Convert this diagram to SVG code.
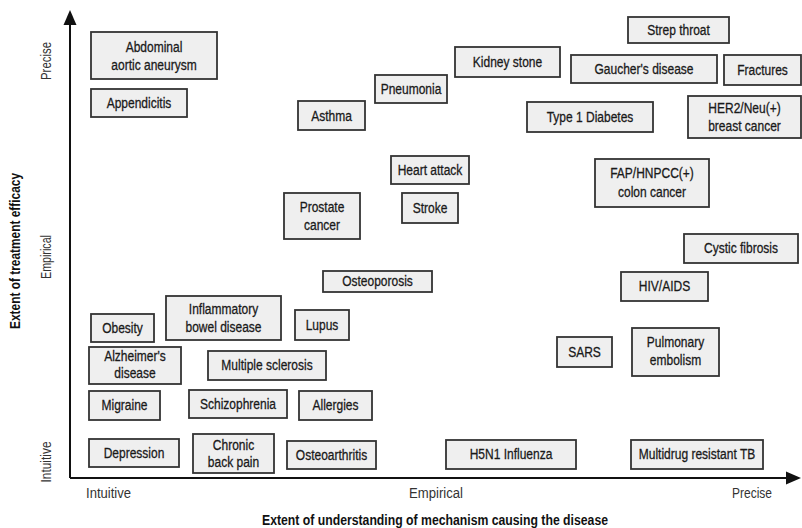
<svg xmlns="http://www.w3.org/2000/svg" width="802" height="528" viewBox="0 0 802 528">
<defs>
<style>
.b{fill:#efefef;stroke:#333;stroke-width:1.8}
.t{font-family:"Liberation Sans",Arial,sans-serif;font-size:15px;fill:#1a1a1a;stroke:#1a1a1a;stroke-width:0.3;text-anchor:middle}
.a{font-family:"Liberation Sans",Arial,sans-serif;font-size:14px;fill:#333;text-anchor:middle}
.ti{font-family:"Liberation Sans",Arial,sans-serif;font-size:14px;font-weight:bold;fill:#111;text-anchor:middle}
.ax{stroke:#111;stroke-width:2;fill:none}
</style>
</defs>
<rect width="802" height="528" fill="#fff"/>
<g id="connectors">
<path class="ax" d="M70,478 L70,14"/>
<path d="M70,10 L63.5,25 L76.5,25 z" fill="#111"/>
<path class="ax" d="M70,478 L790,478"/>
<path d="M801,478 L786,471.5 L786,484.5 z" fill="#111"/>
</g>
<g id="axis-labels">
<text class="a" transform="translate(51,61) rotate(-90)" textLength="38" lengthAdjust="spacingAndGlyphs">Precise</text>
<text class="a" transform="translate(51,257) rotate(-90)" textLength="44" lengthAdjust="spacingAndGlyphs">Empirical</text>
<text class="a" transform="translate(51,462) rotate(-90)" textLength="41" lengthAdjust="spacingAndGlyphs">Intuitive</text>
<text class="ti" transform="translate(20,251) rotate(-90)" textLength="156" lengthAdjust="spacingAndGlyphs">Extent of treatment efficacy</text>
<text class="a" x="108.5" y="498" textLength="45" lengthAdjust="spacingAndGlyphs">Intuitive</text>
<text class="a" x="436" y="498" textLength="54" lengthAdjust="spacingAndGlyphs">Empirical</text>
<text class="a" x="752" y="498" textLength="40" lengthAdjust="spacingAndGlyphs">Precise</text>
<text class="ti" x="435" y="525" textLength="346" lengthAdjust="spacingAndGlyphs">Extent of understanding of mechanism causing the disease</text>
</g>
<g id="abdominal"><rect class="b" x="91" y="32" width="126" height="47"/><text class="t" transform="translate(154,52) scale(.8,1)">Abdominal</text><text class="t" transform="translate(154,70) scale(.8,1)">aortic aneurysm</text></g>
<g id="appendicitis"><rect class="b" x="91" y="89" width="96" height="28"/><text class="t" transform="translate(139,108) scale(.8,1)">Appendicitis</text></g>
<g id="asthma"><rect class="b" x="298" y="101" width="67" height="29"/><text class="t" transform="translate(331.5,121) scale(.8,1)">Asthma</text></g>
<g id="pneumonia"><rect class="b" x="375" y="75" width="72" height="28"/><text class="t" transform="translate(411,94) scale(.8,1)">Pneumonia</text></g>
<g id="kidney"><rect class="b" x="455" y="47" width="105" height="30"/><text class="t" transform="translate(507.5,67) scale(.8,1)">Kidney stone</text></g>
<g id="strep"><rect class="b" x="628" y="17" width="101" height="26"/><text class="t" transform="translate(678.5,35) scale(.8,1)">Strep throat</text></g>
<g id="gaucher"><rect class="b" x="571" y="55" width="146" height="28"/><text class="t" transform="translate(644,74) scale(.8,1)">Gaucher's disease</text></g>
<g id="fractures"><rect class="b" x="724" y="55" width="77" height="30"/><text class="t" transform="translate(762.5,75) scale(.8,1)">Fractures</text></g>
<g id="diabetes"><rect class="b" x="527" y="102" width="126" height="30"/><text class="t" transform="translate(590,122) scale(.8,1)">Type 1 Diabetes</text></g>
<g id="her2"><rect class="b" x="688" y="96" width="113" height="42"/><text class="t" transform="translate(744.5,113) scale(.8,1)">HER2/Neu(+)</text><text class="t" transform="translate(744.5,131) scale(.8,1)">breast cancer</text></g>
<g id="heart"><rect class="b" x="391" y="156" width="78" height="28"/><text class="t" transform="translate(430,175) scale(.8,1)">Heart attack</text></g>
<g id="stroke"><rect class="b" x="402" y="193" width="56" height="30"/><text class="t" transform="translate(430,213) scale(.8,1)">Stroke</text></g>
<g id="prostate"><rect class="b" x="284" y="193" width="76" height="46"/><text class="t" transform="translate(322,212) scale(.8,1)">Prostate</text><text class="t" transform="translate(322,230) scale(.8,1)">cancer</text></g>
<g id="fap"><rect class="b" x="595" y="159" width="114" height="48"/><text class="t" transform="translate(652,178) scale(.8,1)">FAP/HNPCC(+)</text><text class="t" transform="translate(652,197) scale(.8,1)">colon cancer</text></g>
<g id="cystic"><rect class="b" x="684" y="234" width="114" height="29"/><text class="t" transform="translate(741,253) scale(.8,1)">Cystic fibrosis</text></g>
<g id="osteoporosis"><rect class="b" x="323" y="271" width="109" height="21"/><text class="t" transform="translate(377.5,286) scale(.8,1)">Osteoporosis</text></g>
<g id="hiv"><rect class="b" x="621" y="272" width="87" height="29"/><text class="t" transform="translate(664.5,291) scale(.8,1)">HIV/AIDS</text></g>
<g id="obesity"><rect class="b" x="91" y="314" width="63" height="28"/><text class="t" transform="translate(122.5,333) scale(.8,1)">Obesity</text></g>
<g id="ibd"><rect class="b" x="166" y="296" width="115" height="44"/><text class="t" transform="translate(223.5,314) scale(.8,1)">Inflammatory</text><text class="t" transform="translate(223.5,332) scale(.8,1)">bowel disease</text></g>
<g id="lupus"><rect class="b" x="295" y="310" width="54" height="30"/><text class="t" transform="translate(322,330) scale(.8,1)">Lupus</text></g>
<g id="sars"><rect class="b" x="557" y="337" width="55" height="30"/><text class="t" transform="translate(584.5,357) scale(.8,1)">SARS</text></g>
<g id="pulmonary"><rect class="b" x="632" y="328" width="87" height="48"/><text class="t" transform="translate(675.5,347) scale(.8,1)">Pulmonary</text><text class="t" transform="translate(675.5,365) scale(.8,1)">embolism</text></g>
<g id="alzheimer"><rect class="b" x="89" y="347" width="92" height="37"/><text class="t" transform="translate(135,361) scale(.8,1)">Alzheimer's</text><text class="t" transform="translate(135,378) scale(.8,1)">disease</text></g>
<g id="ms"><rect class="b" x="208" y="351" width="118" height="29"/><text class="t" transform="translate(267,370) scale(.8,1)">Multiple sclerosis</text></g>
<g id="migraine"><rect class="b" x="89" y="391" width="71" height="29"/><text class="t" transform="translate(124.5,410) scale(.8,1)">Migraine</text></g>
<g id="schizophrenia"><rect class="b" x="189" y="390" width="98" height="28"/><text class="t" transform="translate(238,409) scale(.8,1)">Schizophrenia</text></g>
<g id="allergies"><rect class="b" x="299" y="391" width="73" height="29"/><text class="t" transform="translate(335.5,410) scale(.8,1)">Allergies</text></g>
<g id="depression"><rect class="b" x="89" y="439" width="90" height="28"/><text class="t" transform="translate(134,458) scale(.8,1)">Depression</text></g>
<g id="backpain"><rect class="b" x="193" y="434" width="81" height="39"/><text class="t" transform="translate(233.5,450) scale(.8,1)">Chronic</text><text class="t" transform="translate(233.5,467) scale(.8,1)">back pain</text></g>
<g id="osteoarthritis"><rect class="b" x="287" y="441" width="89" height="28"/><text class="t" transform="translate(331.5,460) scale(.8,1)">Osteoarthritis</text></g>
<g id="h5n1"><rect class="b" x="446" y="440" width="130" height="29"/><text class="t" transform="translate(511,459) scale(.8,1)">H5N1 Influenza</text></g>
<g id="mdrtb"><rect class="b" x="631" y="440" width="132" height="29"/><text class="t" transform="translate(697,459) scale(.8,1)">Multidrug resistant TB</text></g>
</svg>
